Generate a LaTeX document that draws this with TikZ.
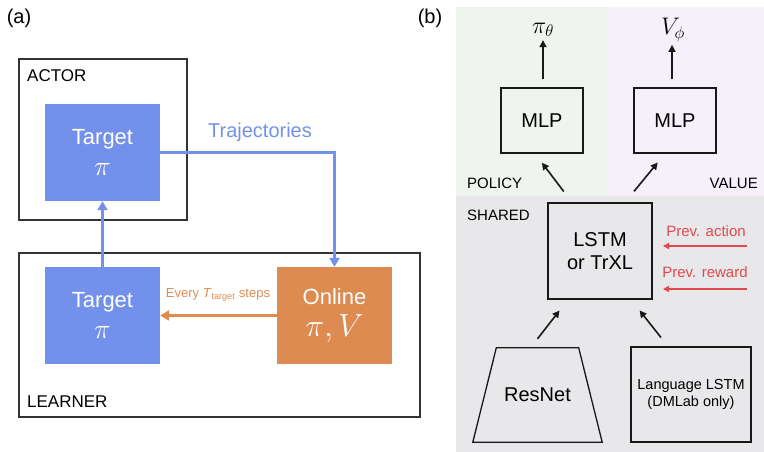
\documentclass[tikz,border=0pt]{standalone}
\usepackage{fix-cm}
\usepackage{fontspec}
\setmainfont{Liberation Sans}
\usetikzlibrary{arrows.meta}

\definecolor{tgtblue}{HTML}{7391EA}
\definecolor{onlorange}{HTML}{DE8B52}
\definecolor{prevred}{HTML}{E0494E}
\definecolor{polgreen}{HTML}{EFF4EE}
\definecolor{valpurple}{HTML}{F6F0FB}
\definecolor{shrgray}{HTML}{E8E7EA}

\newcommand{\fs}[1]{\fontsize{#1}{#1}\selectfont}

\begin{document}
\begin{tikzpicture}[x=1pt, y=-1pt,
	frame/.style={draw=black!80, line width=1.3pt, minimum width=#1},
	netbox/.style={draw=black!90, line width=1.3pt, align=center, inner sep=0pt},
	solid box/.style={fill=#1, text=white, align=center, minimum width=115pt, minimum height=97pt, inner sep=0pt},
	tag/.style={inner sep=0pt, font=\fs{15}},
	blue arr/.style={draw=tgtblue, line width=2.2pt, -{Triangle[width=10pt,length=9pt]}},
	orange arr/.style={draw=onlorange, line width=2.2pt, -{Triangle[width=10pt,length=9pt]}},
	arr/.style={draw=black!90, line width=1.6pt, -{Triangle[width=7pt,length=7pt]}},
	red arr/.style={draw=prevred, line width=1.3pt, -{Triangle[width=6pt,length=6pt]}}]
	\useasboundingbox (0,0) rectangle (764,452);

	% (a)
	\node[inner sep=0pt, font=\fs{20}] (la) at (19, 18) {(a)};
	\node[frame=168pt, minimum height=161pt] (actor) at (103, 139.5) {};
	\node[frame=401pt, minimum height=164pt] (learner) at (219.5, 335) {};
	\node[tag, font=\fs{17}, anchor=west] (actortxt) at (27, 76) {ACTOR};
	\node[tag, font=\fs{17}, anchor=west] (learnertxt) at (27, 402) {LEARNER};

	\node[solid box=tgtblue] (acttgt) at (102.5, 152.5) {\fs{22}Target\\[13pt]{\fs{28}$\pi$}};
	\node[solid box=tgtblue] (lrntgt) at (102.5, 315.5) {\fs{22}Target\\[13pt]{\fs{28}$\pi$}};
	\node[solid box=onlorange] (online) at (334.5, 315.5) {\fs{22}Online\\[9pt]{\fs{32}$\pi, V$}};

	\node[inner sep=0pt, text=tgtblue, font=\fs{20}] (traj) at (260, 132) {Trajectories};
	\node[inner sep=0pt, text=onlorange, font=\fs{13}] (every) at (218, 295) {Every \textit{T}\textsubscript{target} steps};

	\draw[blue arr] (acttgt.east) -| (online.north);
	\draw[blue arr] (lrntgt.north) -- (acttgt.south);
	\draw[orange arr] (online.west) -- (lrntgt.east);

	% (b)
	\node[inner sep=0pt, font=\fs{20}] (lb) at (430, 18) {(b)};
	\fill[polgreen] (456, 7) rectangle (608, 196);
	\fill[valpurple] (608, 7) rectangle (764, 196);
	\fill[shrgray] (456, 196) rectangle (764, 452);

	\node[tag, anchor=west] (policy) at (467, 183) {POLICY};
	\node[tag, anchor=east] (value) at (758, 183) {VALUE};
	\node[tag, anchor=west] (shared) at (467, 215) {SHARED};

	\node[inner sep=1pt, font=\fs{24}] (piT) at (543, 30) {$\pi_\theta$};
	\node[inner sep=1pt, font=\fs{24}] (vphi) at (673, 30) {$V_\phi$};
	\node[netbox, minimum width=82pt, minimum height=65pt, font=\fs{20}] (mlpP) at (542, 120.5) {MLP};
	\node[netbox, minimum width=82pt, minimum height=65pt, font=\fs{20}] (mlpV) at (675, 120.5) {MLP};
	\node[netbox, minimum width=104pt, minimum height=96pt, font=\fs{20}] (lstm) at (600, 251) {LSTM\\[3pt]or TrXL};
	\node[inner sep=0pt, minimum width=129pt, minimum height=94pt, font=\fs{20}] (resnet) at (537.5, 395) {ResNet};
	\draw[line width=1.3pt, black!90] (resnet.south west) -- ([xshift=23.5pt]resnet.north west)
		-- ([xshift=-23.5pt]resnet.north east) -- (resnet.south east) -- cycle;
	\node[netbox, minimum width=120pt, minimum height=95pt, font=\fs{14.5}] (lang) at (691, 394.5) {Language LSTM\\[3pt](DMLab only)};

	\node[inner sep=0pt, text=prevred, font=\fs{15}] (pact) at (706, 231) {Prev. action};
	\node[inner sep=0pt, text=prevred, font=\fs{15}] (prew) at (705, 272) {Prev. reward};
	\coordinate (pactin) at (747, 246);
	\coordinate (pactout) at (663, 246);
	\coordinate (prewin) at (747, 289);
	\coordinate (prewout) at (663, 289);

	\path ([xshift=1pt]mlpP.north) edge[arr, shorten <=8pt, shorten >=2pt] ([xshift=1pt]mlpP.north |- piT.south)
		([xshift=-3pt]mlpV.north) edge[arr, shorten <=8pt, shorten >=2pt] ([xshift=-3pt]mlpV.north |- vphi.south)
		([xshift=-28pt]lstm.north) edge[arr, shorten <=13.6pt, shorten >=11.4pt] ([xshift=-7pt]mlpP.south)
		([xshift=25pt]lstm.north) edge[arr, shorten <=14.2pt, shorten >=11.5pt] ([xshift=-10pt]mlpV.south)
		([xshift=-7pt]resnet.north) edge[arr, shorten <=11.4pt, shorten >=13.8pt] ([xshift=-32pt]lstm.south)
		([xshift=-23pt]lang.north) edge[arr, shorten <=11.3pt, shorten >=13.8pt] ([xshift=31pt]lstm.south)
		(pactin) edge[red arr] (pactout)
		(prewin) edge[red arr] (prewout);
\end{tikzpicture}
\end{document}
